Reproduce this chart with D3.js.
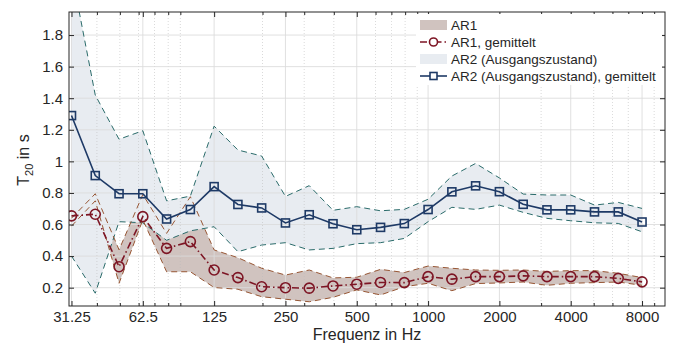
<!DOCTYPE html>
<html><head><meta charset="utf-8">
<script src="https://cdn.jsdelivr.net/npm/d3@7"></script>
<style>
body{margin:0;background:#fff}
svg{display:block}
text{font-family:"Liberation Sans",Arial,Helvetica,sans-serif;fill:#262626}
</style>
</head><body>
<svg id="c" width="673" height="343"></svg>
<script>
// ---------- data ----------
const freqs = [31.25, 39.37, 49.61, 62.5, 78.75, 99.21, 125, 157.5, 198.4, 250, 315, 396.9, 500, 630, 793.7, 1000, 1260, 1587, 2000, 2520, 3175, 4000, 5040, 6350, 8000];

const ar2Mean  = [1.29, 0.91, 0.795, 0.795, 0.635, 0.695, 0.84, 0.727, 0.705, 0.61, 0.662, 0.605, 0.567, 0.582, 0.606, 0.695, 0.807, 0.845, 0.808, 0.728, 0.693, 0.693, 0.68, 0.68, 0.616];
const ar2Upper = [2.2, 1.42, 1.14, 1.194, 0.75, 0.78, 1.223, 1.072, 1.034, 0.778, 0.846, 0.69, 0.713, 0.687, 0.696, 0.76, 0.907, 0.987, 0.895, 0.793, 0.787, 0.787, 0.723, 0.74, 0.702];
const ar2Lower = [0.40, 0.165, 0.618, 0.611, 0.50, 0.56, 0.586, 0.428, 0.47, 0.485, 0.439, 0.449, 0.479, 0.485, 0.512, 0.618, 0.709, 0.696, 0.723, 0.677, 0.639, 0.624, 0.611, 0.607, 0.554];

const ar1Mean  = [0.655, 0.665, 0.333, 0.65, 0.449, 0.492, 0.312, 0.264, 0.206, 0.2, 0.197, 0.211, 0.222, 0.233, 0.232, 0.27, 0.254, 0.27, 0.27, 0.275, 0.27, 0.27, 0.27, 0.259, 0.237];
const ar1Upper = [0.64, 0.795, 0.44, 0.79, 0.544, 0.776, 0.439, 0.39, 0.323, 0.28, 0.312, 0.262, 0.266, 0.316, 0.296, 0.337, 0.323, 0.312, 0.31, 0.312, 0.303, 0.308, 0.308, 0.291, 0.264];
const ar1Lower = [0.59, 0.75, 0.228, 0.63, 0.301, 0.301, 0.201, 0.19, 0.143, 0.127, 0.111, 0.139, 0.186, 0.154, 0.206, 0.228, 0.181, 0.226, 0.23, 0.236, 0.215, 0.228, 0.232, 0.236, 0.215];

const xTickValues = [31.25, 62.5, 125, 250, 500, 1000, 2000, 4000, 8000];
const xTickLabels = ["31.25", "62.5", "125", "250", "500", "1000", "2000", "4000", "8000"];
const xMinorValues = [40, 50, 60, 70, 80, 90, 200, 300, 400, 600, 700, 800, 900, 3000, 5000, 6000, 7000, 9000];
const yTickValues = [0.2, 0.4, 0.6, 0.8, 1.0, 1.2, 1.4, 1.6, 1.8];
const yTickLabels = ["0.2", "0.4", "0.6", "0.8", "1", "1.2", "1.4", "1.6", "1.8"];

const legendLabels = ["AR1", "AR1, gemittelt", "AR2 (Ausgangszustand)", "AR2 (Ausgangszustand), gemittelt"];
const xTitle = "Frequenz in Hz";

// ---------- styles ----------
const C = {
  ar1Fill: "#d0c3bf", ar2Fill: "#e8ecf1",
  ar1Edge: "#975634", ar2Edge: "#2a6b6a",
  ar1Line: "#7d1524", ar2Line: "#1e3a66",
  axis: "#262626", gridMajor: "#dcdcdc", gridMinor: "#bdbdbd"
};

const L = 69, R = 665, T = 12, B = 306;
const svg = d3.select("#c");
const x = d3.scaleLog().domain([30.5, 10000]).range([L, R]);
const y = d3.scaleLinear().domain([0.084, 1.946]).range([B, T]);

svg.append("defs").append("clipPath").attr("id", "clip")
  .append("rect").attr("x", L).attr("y", T).attr("width", R - L).attr("height", B - T);

const plot = svg.append("g").attr("clip-path", "url(#clip)");

// bands
const ar1 = freqs.map((f, i) => ({f, m: ar1Mean[i], u: ar1Upper[i], l: ar1Lower[i]}));
const ar2 = freqs.map((f, i) => ({f, m: ar2Mean[i], u: ar2Upper[i], l: ar2Lower[i]}));
const area = d3.area().x(d => x(d.f)).y0(d => y(d.l)).y1(d => y(d.u));
plot.append("path").datum(ar1).attr("d", area).attr("fill", C.ar1Fill);
plot.append("path").datum(ar2).attr("d", area).attr("fill", C.ar2Fill);

// grid
const grid = plot.append("g");
grid.selectAll(".gm").data(xMinorValues).join("line")
  .attr("x1", d => x(d)).attr("x2", d => x(d)).attr("y1", T).attr("y2", B)
  .attr("stroke", C.gridMinor).attr("stroke-width", 0.7).attr("stroke-dasharray", "1,2").attr("opacity", 0.8);
grid.selectAll(".gx").data(xTickValues).join("line")
  .attr("x1", d => x(d)).attr("x2", d => x(d)).attr("y1", T).attr("y2", B)
  .attr("stroke", C.gridMajor).attr("stroke-width", 1).attr("opacity", 0.85);
grid.selectAll(".gy").data(yTickValues).join("line")
  .attr("x1", L).attr("x2", R).attr("y1", d => y(d)).attr("y2", d => y(d))
  .attr("stroke", C.gridMajor).attr("stroke-width", 1).attr("opacity", 0.85);

// band edges
const lineU = d3.line().x(d => x(d.f)).y(d => y(d.u));
const lineL = d3.line().x(d => x(d.f)).y(d => y(d.l));
const lineM = d3.line().x(d => x(d.f)).y(d => y(d.m));
[[ar2, C.ar2Edge], [ar1, C.ar1Edge]].forEach(([data, col]) => {
  [lineU, lineL].forEach(g => plot.append("path").datum(data).attr("d", g)
    .attr("fill", "none").attr("stroke", col).attr("stroke-width", 1).attr("stroke-dasharray", "6,4"));
});

// means
plot.append("path").datum(ar1).attr("d", lineM).attr("fill", "none")
  .attr("stroke", C.ar1Line).attr("stroke-width", 1.6).attr("stroke-dasharray", "7,3,1.5,3");
plot.selectAll(".c1").data(ar1).join("circle")
  .attr("cx", d => x(d.f)).attr("cy", d => y(d.m)).attr("r", 5)
  .attr("fill", "none").attr("stroke", C.ar1Line).attr("stroke-width", 1.6);

plot.append("path").datum(ar2).attr("d", lineM).attr("fill", "none")
  .attr("stroke", C.ar2Line).attr("stroke-width", 1.6);
plot.selectAll(".s2").data(ar2).join("rect")
  .attr("x", d => x(d.f) - 4).attr("y", d => y(d.m) - 4).attr("width", 8).attr("height", 8)
  .attr("fill", "none").attr("stroke", C.ar2Line).attr("stroke-width", 1.6);

// axes
const fontTick = "15px";
const ax = svg.append("g").attr("transform", `translate(0,${B})`)
  .call(d3.axisBottom(x).tickValues(xTickValues).tickFormat((d, i) => xTickLabels[i]).tickSize(-5).tickPadding(5));
const axT = svg.append("g").attr("transform", `translate(0,${T})`)
  .call(d3.axisTop(x).tickValues(xTickValues).tickFormat("").tickSize(-5));
const ay = svg.append("g").attr("transform", `translate(${L},0)`)
  .call(d3.axisLeft(y).tickValues(yTickValues).tickFormat((d, i) => yTickLabels[i]).tickSize(-5).tickPadding(6));
const ayR = svg.append("g").attr("transform", `translate(${R},0)`)
  .call(d3.axisRight(y).tickValues(yTickValues).tickFormat("").tickSize(-5));
const axm = svg.append("g").attr("transform", `translate(0,${B})`)
  .call(d3.axisBottom(x).tickValues(xMinorValues).tickFormat("").tickSize(-3));
const axmT = svg.append("g").attr("transform", `translate(0,${T})`)
  .call(d3.axisTop(x).tickValues(xMinorValues).tickFormat("").tickSize(-3));
[ax, axT, ay, ayR, axm, axmT].forEach(g => {
  g.select(".domain").remove();
  g.selectAll("line").attr("stroke", C.axis).attr("stroke-width", 1);
  g.selectAll("text").attr("font-size", fontTick).attr("fill", C.axis)
    .attr("font-family", '"Liberation Sans",Arial,sans-serif');
});
svg.append("rect").attr("x", L).attr("y", T).attr("width", R - L).attr("height", B - T)
  .attr("fill", "none").attr("stroke", C.axis).attr("stroke-width", 1);

// axis titles
svg.append("text").attr("x", (L + R) / 2).attr("y", 339.5).attr("text-anchor", "middle")
  .attr("font-size", "16px").text(xTitle);
const yt = svg.append("text").attr("transform", "translate(29,160) rotate(-90)")
  .attr("text-anchor", "middle").attr("font-size", "16px");
yt.append("tspan").text("T");
yt.append("tspan").attr("font-size", "11px").attr("dy", 4).text("20");
yt.append("tspan").attr("dy", -4).text(" in s");

// legend
const lg = svg.append("g");
lg.append("rect").attr("x", 416).attr("y", 14).attr("width", 246).attr("height", 71).attr("fill", "#fff");
const rowsY = [25, 42, 59, 76];
const sx0 = 420, sx1 = 447, sxm = 433.5;
lg.append("rect").attr("x", sx0).attr("y", rowsY[0] - 5).attr("width", sx1 - sx0).attr("height", 10).attr("fill", C.ar1Fill);
lg.append("line").attr("x1", sx0).attr("x2", sx1).attr("y1", rowsY[1]).attr("y2", rowsY[1])
  .attr("stroke", C.ar1Line).attr("stroke-width", 1.6).attr("stroke-dasharray", "7,3,1.5,3");
lg.append("circle").attr("cx", sxm).attr("cy", rowsY[1]).attr("r", 4).attr("fill", "#fff")
  .attr("stroke", C.ar1Line).attr("stroke-width", 1.6);
lg.append("rect").attr("x", sx0).attr("y", rowsY[2] - 5).attr("width", sx1 - sx0).attr("height", 10).attr("fill", C.ar2Fill);
lg.append("line").attr("x1", sx0).attr("x2", sx1).attr("y1", rowsY[3]).attr("y2", rowsY[3])
  .attr("stroke", C.ar2Line).attr("stroke-width", 1.6);
lg.append("rect").attr("x", sxm - 3.5).attr("y", rowsY[3] - 3.5).attr("width", 7).attr("height", 7)
  .attr("fill", "#fff").attr("stroke", C.ar2Line).attr("stroke-width", 1.6);
lg.selectAll(".lt").data(legendLabels).join("text")
  .attr("x", 451).attr("y", (d, i) => rowsY[i] + 4.6).attr("font-size", "13.5px").text(d => d);
</script>
</body></html>
